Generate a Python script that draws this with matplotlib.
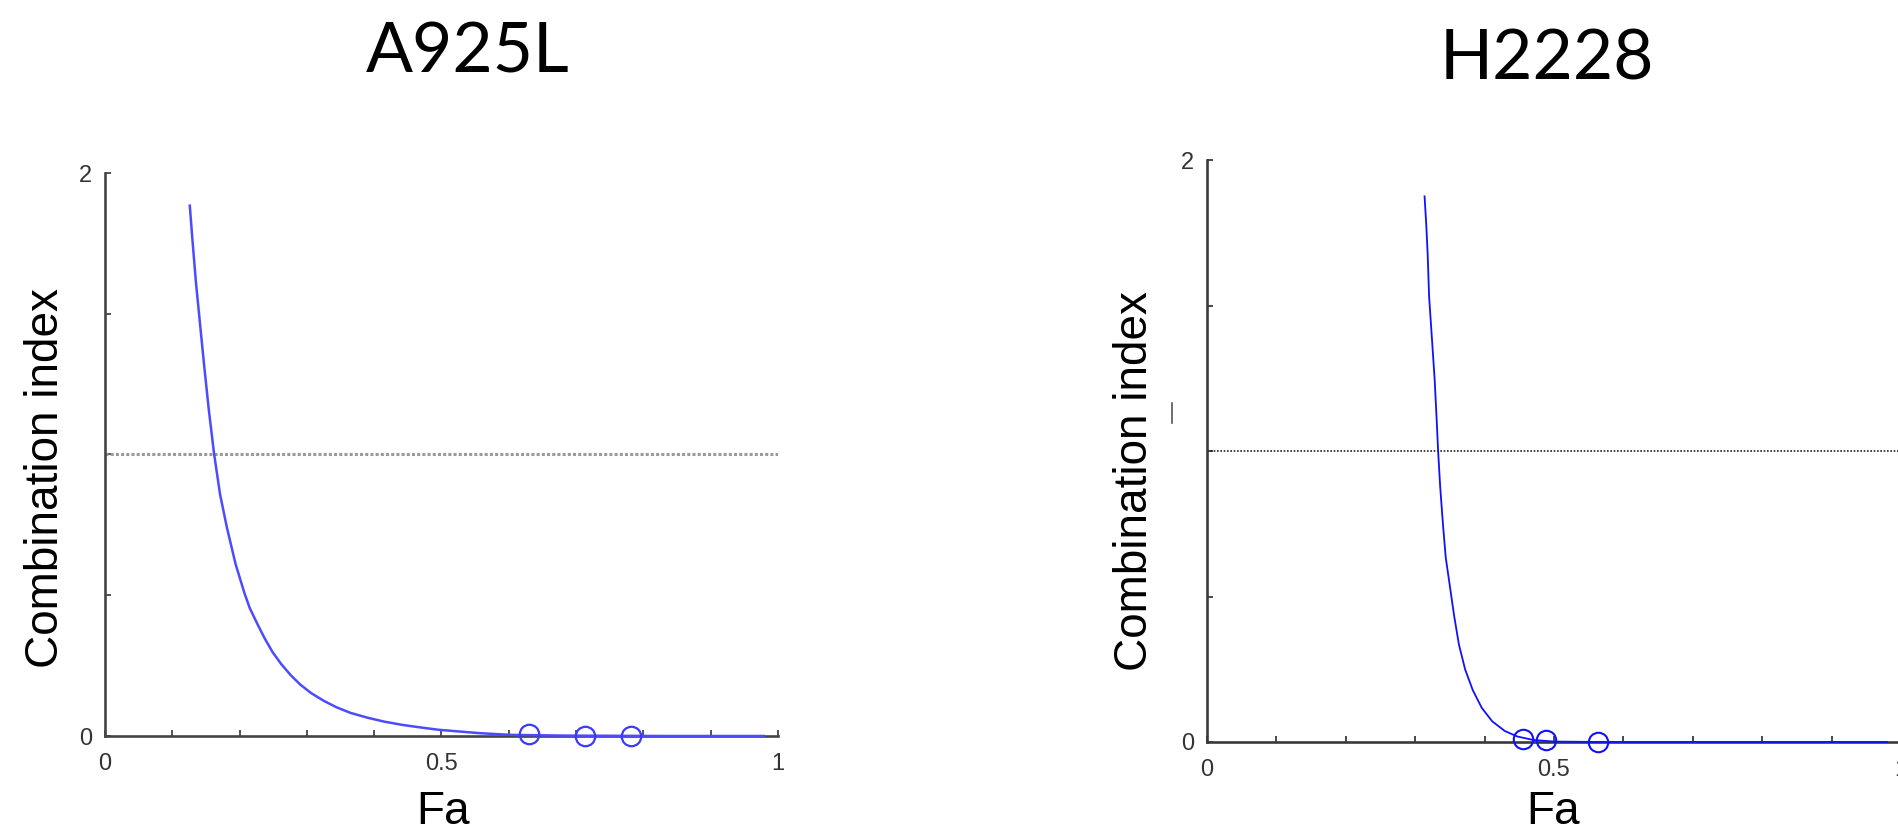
import matplotlib
matplotlib.use("Agg")
import matplotlib.pyplot as plt
from matplotlib.lines import Line2D

# Combination index (CI) versus fraction affected (Fa) for two cell lines
titles = ["A925L", "H2228"]

# A925L simulated CI curve
a925l_fa = [0.126, 0.130, 0.135, 0.141, 0.147, 0.154, 0.162, 0.171, 0.181, 0.194,
            0.207, 0.215, 0.226, 0.237, 0.249, 0.262, 0.276, 0.290, 0.306, 0.325,
            0.344, 0.365, 0.390, 0.415, 0.443, 0.470, 0.496, 0.557, 0.603, 0.679,
            0.831, 0.979]
a925l_ci = [1.884, 1.760, 1.615, 1.469, 1.324, 1.164, 1.004, 0.858, 0.742, 0.611,
            0.509, 0.455, 0.400, 0.348, 0.298, 0.255, 0.216, 0.183, 0.153, 0.125,
            0.102, 0.082, 0.065, 0.051, 0.039, 0.030, 0.022, 0.010, 0.004, 0.0015,
            0.0, 0.0]
# A925L measured combinations
a925l_pts_fa = [0.630, 0.713, 0.781]
a925l_pts_ci = [0.008, 0.0, 0.0]

# H2228 simulated CI curve
h2228_fa = [0.3135, 0.316, 0.318, 0.320, 0.324, 0.328, 0.331, 0.333, 0.336, 0.340,
            0.344, 0.350, 0.356, 0.363, 0.372, 0.383, 0.396, 0.411, 0.429, 0.447,
            0.470, 0.500, 0.568, 0.980]
h2228_ci = [1.875, 1.775, 1.675, 1.532, 1.390, 1.247, 1.105, 1.001, 0.877, 0.748,
            0.634, 0.535, 0.435, 0.335, 0.249, 0.178, 0.117, 0.071, 0.038, 0.019,
            0.007, 0.0015, 0.0, 0.0]
# H2228 measured combinations
h2228_pts_fa = [0.456, 0.488, 0.563]
h2228_pts_ci = [0.010, 0.006, 0.0]

x_ticks = [i / 10 for i in range(11)]
x_ticklabels = ["0", "", "", "", "", "0.5", "", "", "", "", "1"]
y_ticks = [0, 0.5, 1, 1.5, 2]
y_ticklabels = ["0", "", "", "", "2"]
additive_level = 1.0

W, H = 1899, 838
fig = plt.figure(figsize=(W / 100, H / 100), dpi=100)
fig.patch.set_facecolor("white")

tick_font = ["Liberation Sans", "DejaVu Sans"]
label_font = ["Liberation Sans", "DejaVu Sans"]
title_font = ["Lato", "DejaVu Sans"]


def px_axes(x0, x1, y_top, y_bot):
    return fig.add_axes([x0 / W, 1 - y_bot / H, (x1 - x0) / W, (y_bot - y_top) / H])


def style(ax, spine_col):
    ax.set_xlim(0, 1)
    ax.set_ylim(0, 2)
    for s in ("top", "right"):
        ax.spines[s].set_visible(False)
    for s in ("left", "bottom"):
        ax.spines[s].set_color(spine_col)
        ax.spines[s].set_linewidth(1.9)
    ax.set_xticks(x_ticks)
    ax.set_xticklabels(x_ticklabels)
    ax.set_yticks(y_ticks)
    ax.set_yticklabels(y_ticklabels)
    ax.tick_params(direction="in", length=4.5, width=1.3, color=spine_col,
                   labelsize=17, labelcolor="#333333")
    ax.tick_params(axis="x", pad=12)
    ax.tick_params(axis="y", pad=9)
    for lab in ax.get_xticklabels() + ax.get_yticklabels():
        lab.set_family(tick_font)


# Left panel: A925L
ax1 = px_axes(105, 778, 173, 736)
style(ax1, "#444444")
ax1.axhline(additive_level, color="#9a9a9a", lw=2.2, ls=(0, (1, 0.7)), zorder=2)
ax1.plot(a925l_fa, a925l_ci, color="#4b4bff", lw=1.8, zorder=4, clip_on=False)
ax1.plot(a925l_pts_fa, a925l_pts_ci, ls="none", marker="o", ms=14, mfc="none",
         mec="#3a3aff", mew=1.6, zorder=5, clip_on=False)

# Right panel: H2228
ax2 = px_axes(1207, 1901, 160, 742)
style(ax2, "#3a3a3a")
ax2.axhline(additive_level, color="#222222", lw=1.2, ls=(0, (1, 1)), zorder=2)
ax2.plot(h2228_fa, h2228_ci, color="#1010ff", lw=1.3, zorder=4, clip_on=False)
ax2.plot(h2228_pts_fa, h2228_pts_ci, ls="none", marker="o", ms=14, mfc="none",
         mec="#1010ff", mew=1.5, zorder=5, clip_on=False)

# Panel titles
fig.text(468 / W, 1 - 53 / H, titles[0], ha="center", va="center",
         fontsize=50, family=title_font, color="black")
fig.text(1547 / W, 1 - 60 / H, titles[1], ha="center", va="center",
         fontsize=50, family=title_font, color="black")

# Axis titles
fig.text(46 / W, 1 - 478 / H, "Combination index", rotation=90, ha="center",
         va="center", fontsize=33, family=label_font)
fig.text(1135 / W, 1 - 481 / H, "Combination index", rotation=90, ha="center",
         va="center", fontsize=33, family=label_font)
fig.text(443 / W, 1 - 812 / H, "Fa", ha="center", va="center",
         fontsize=33, family=label_font)
fig.text(1553 / W, 1 - 812 / H, "Fa", ha="center", va="center",
         fontsize=33, family=label_font)

# Small stray stroke beside the right y-axis
fig.add_artist(Line2D([1172 / W, 1172 / W], [1 - 403 / H, 1 - 423 / H],
                      color="#555555", lw=1.2))

fig.savefig("out.png", dpi=100, facecolor="white")
